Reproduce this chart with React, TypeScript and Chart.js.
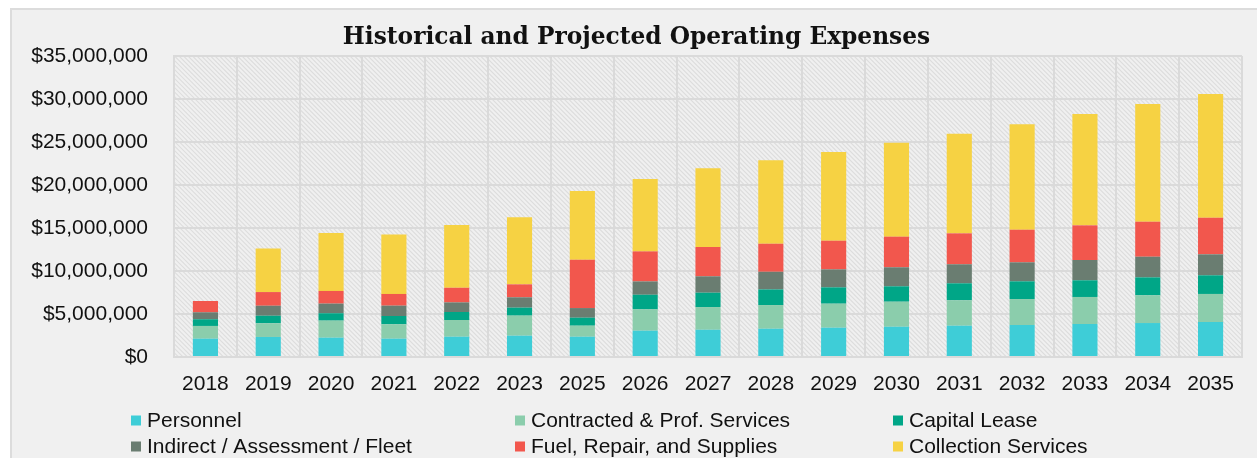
import React, { useEffect, useRef } from "react";
import { Chart, registerables } from "chart.js";

Chart.register(...registerables);

const titleText = "Historical and Projected Operating Expenses";

const years = ["2018", "2019", "2020", "2021", "2022", "2023", "2025", "2026", "2027", "2028", "2029", "2030", "2031", "2032", "2033", "2034", "2035"];

const personnel = [2130000, 2330000, 2250000, 2130000, 2360000, 2480000, 2360000, 3060000, 3170000, 3290000, 3410000, 3520000, 3640000, 3720000, 3840000, 3950000, 4070000];
const contracted = [1480000, 1590000, 1980000, 1670000, 1940000, 2330000, 1280000, 2480000, 2640000, 2750000, 2790000, 2910000, 2950000, 3020000, 3140000, 3220000, 3260000];
const capitalLease = [780000, 880000, 860000, 970000, 930000, 930000, 930000, 1700000, 1670000, 1820000, 1900000, 1790000, 1980000, 2060000, 1940000, 2090000, 2170000];
const indirect = [810000, 1160000, 1120000, 1200000, 1120000, 1200000, 1120000, 1550000, 1900000, 2050000, 2090000, 2210000, 2210000, 2210000, 2360000, 2400000, 2440000];
const fuel = [1310000, 1590000, 1470000, 1360000, 1700000, 1510000, 5620000, 3490000, 3410000, 3260000, 3330000, 3560000, 3600000, 3790000, 4030000, 4070000, 4260000];
const collection = [0, 5080000, 6740000, 6900000, 7290000, 7790000, 7990000, 8410000, 9150000, 9700000, 10310000, 10930000, 11580000, 12260000, 12940000, 13690000, 14380000];

const seriesLabels = [
  "Personnel",
  "Contracted & Prof. Services",
  "Capital Lease",
  "Indirect / Assessment / Fleet",
  "Fuel, Repair, and Supplies",
  "Collection Services",
];
const seriesColors = ["#3ECDD7", "#8BCDAC", "#00A687", "#6A7D71", "#F2574D", "#F6D243"];
const seriesValues = [personnel, contracted, capitalLease, indirect, fuel, collection];

const yTicks = [0, 5000000, 10000000, 15000000, 20000000, 25000000, 30000000, 35000000];

const W = 1257;
const H = 458;

const hatchPlugin = {
  id: "hatch",
  beforeDraw(chart: any) {
    const { ctx, chartArea } = chart;
    const { left, top, right, bottom } = chartArea;
    ctx.save();
    ctx.beginPath();
    ctx.rect(left, top, right - left, bottom - top);
    ctx.clip();
    ctx.fillStyle = "#f0f0f0";
    ctx.fillRect(left, top, right - left, bottom - top);
    ctx.strokeStyle = "#dddddd";
    ctx.lineWidth = 1.1;
    const h = bottom - top;
    ctx.beginPath();
    for (let k = -h; k < right - left + 5; k += 4.5) {
      ctx.moveTo(left + k, top);
      ctx.lineTo(left + k + h, bottom);
    }
    ctx.stroke();
    ctx.restore();
  },
};

const textPlugin = {
  id: "texts",
  afterDraw(chart: any) {
    const { ctx } = chart;
    ctx.save();
    ctx.fillStyle = "#111111";
    ctx.font = 'bold 23.3px "DejaVu Serif"';
    ctx.textAlign = "center";
    ctx.textBaseline = "alphabetic";
    ctx.fillText(titleText, 636.5, 44);

    const colX = [131, 515, 893];
    const rowY = [420.5, 446.5];
    ctx.font = '21px "Liberation Sans", Arial, sans-serif';
    ctx.textAlign = "left";
    ctx.textBaseline = "middle";
    chart.data.datasets.forEach((ds: any, i: number) => {
      const x = colX[i % 3];
      const y = rowY[Math.floor(i / 3)];
      ctx.fillStyle = ds.backgroundColor;
      ctx.fillRect(x, y - 5, 10, 10);
      ctx.fillStyle = "#111111";
      ctx.fillText(ds.label, x + 16, y + 0.5);
    });
    ctx.restore();
  },
};

export default function App() {
  const ref = useRef<HTMLCanvasElement | null>(null);
  useEffect(() => {
    if (!ref.current) return;
    const chart = new Chart(ref.current, {
      type: "bar",
      data: {
        labels: years,
        datasets: seriesLabels.map((label, i) => ({
          label,
          data: seriesValues[i],
          backgroundColor: seriesColors[i],
          borderWidth: 0,
          barPercentage: 0.4,
          categoryPercentage: 1,
        })),
      },
      options: {
        responsive: false,
        animation: false,
        devicePixelRatio: 1,
        layout: { padding: { left: 0, top: 56, right: 15, bottom: 0 } },
        plugins: {
          legend: { display: false },
          title: { display: false },
          tooltip: { enabled: false },
        },
        scales: {
          x: {
            stacked: true,
            grid: { color: "#dadada", lineWidth: 2, drawTicks: false, offset: true },
            border: { color: "#dadada", width: 2 },
            ticks: {
              color: "#111111",
              font: { family: '"Liberation Sans", Arial, sans-serif', size: 21 },
              padding: 15,
              maxRotation: 0,
              autoSkip: false,
            },
            afterFit: (s: any) => {
              s.height = H - 357;
            },
          },
          y: {
            stacked: true,
            min: 0,
            max: 35000000,
            afterBuildTicks: (s: any) => {
              s.ticks = yTicks.map((v) => ({ value: v }));
            },
            grid: { color: "#dadada", lineWidth: 2, drawTicks: false },
            border: { color: "#dadada", width: 2 },
            ticks: {
              color: "#111111",
              font: { family: '"Liberation Sans", Arial, sans-serif', size: 21 },
              padding: 26,
              callback: (v: any) => "$" + Number(v).toLocaleString("en-US"),
            },
            afterFit: (s: any) => {
              s.width = 174;
            },
          },
        },
      },
      plugins: [hatchPlugin, textPlugin],
    });
    return () => chart.destroy();
  }, []);

  return (
    <>
      <div
        style={{
          position: "fixed",
          left: 10,
          top: 8,
          width: 1260,
          height: 470,
          background: "#f0f0f0",
          border: "2px solid #dcdcdc",
          boxSizing: "border-box",
        }}
      />
      <canvas
        ref={ref}
        width={W}
        height={H}
        style={{ position: "fixed", left: 0, top: 0, width: W, height: H }}
      />
    </>
  );
}
